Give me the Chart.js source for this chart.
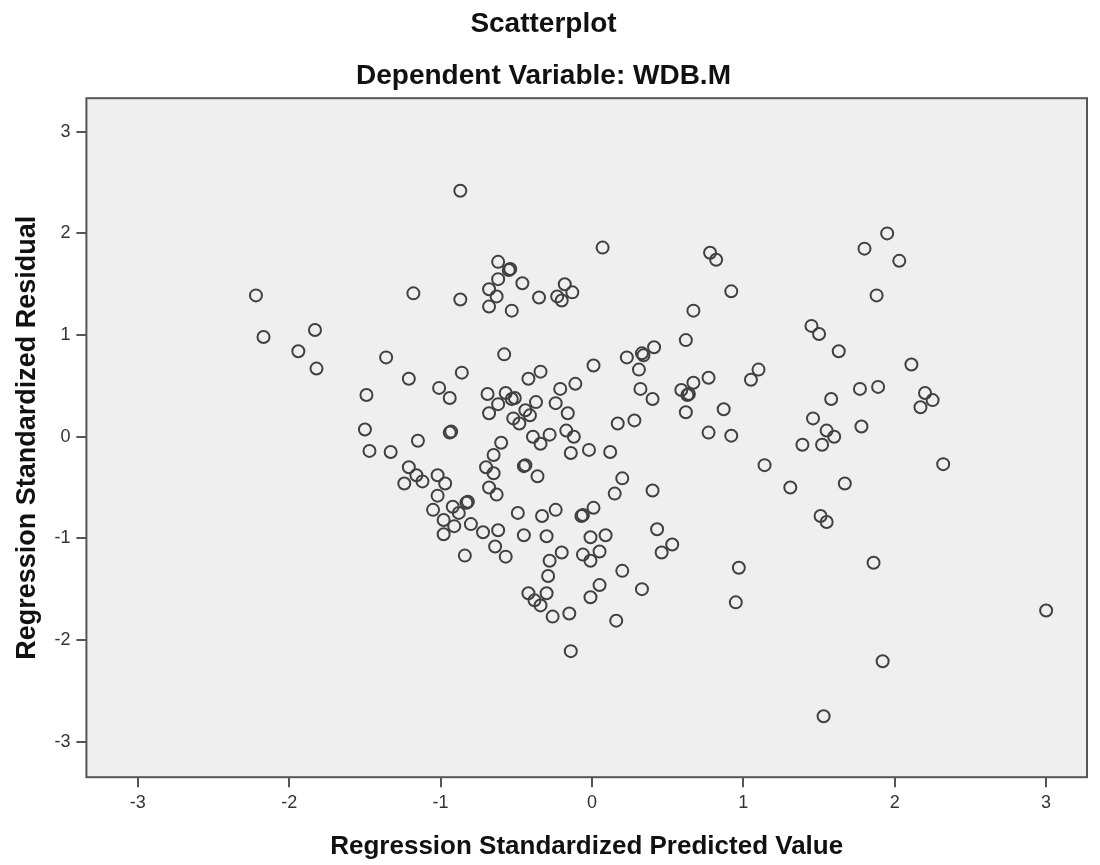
<!DOCTYPE html>
<html>
<head>
<meta charset="utf-8">
<title>Scatterplot</title>
<script src="https://cdn.jsdelivr.net/npm/chart.js@4.4.1/dist/chart.umd.min.js"></script>
<style>
    html, body { margin: 0; padding: 0; background: #ffffff; }
    #wrap { width: 1100px; height: 865px; position: relative; }
</style>
</head>
<body>
<div id="wrap"><canvas id="residChart"></canvas></div>
<script>
// regression standardized predicted value (x) and residual (y)
const predicted = [
    -0.87, -2.22, -1.18, -0.87, -2.17, -1.83, -1.94, -1.36, 0.07, -0.62,
    -0.55, -0.54, -0.62, -0.46, -0.68, -0.63, -0.68, -0.53, -0.35, -0.18,
    -0.13, -0.23, -0.20, 0.78, 0.82, 0.67, 0.62, -0.58, 0.01, 0.23,
    0.33, 0.34, 0.41, 0.92, 1.95, 1.80, 2.03, 1.88, 1.45, 1.50,
    1.63, -1.82, -1.21, -0.86, -1.01, -0.94, -1.49, -1.50, -0.94, -0.93,
    -1.15, -1.47, -1.33, -1.21, -1.16, -1.24, -1.12, -1.02, -0.97, -1.02,
    -1.05, -0.92, -0.88, -0.83, -0.82, -0.98, -0.91, -0.80, -0.98, -0.42,
    -0.34, 0.31, -0.69, -0.57, -0.53, -0.51, -0.62, -0.68, -0.37, -0.44,
    -0.41, -0.52, -0.48, -0.21, -0.11, -0.24, -0.16, 0.32, 0.40, 0.59,
    0.67, 0.77, 0.63, 0.64, 0.62, 0.17, 0.28, 0.77, -0.39, -0.34,
    -0.28, -0.17, -0.12, -0.60, -0.65, -0.14, -0.02, 0.12, -0.70, -0.65,
    -0.45, -0.44, -0.36, 0.20, 0.15, 0.40, -0.68, -0.63, -0.49, -0.33,
    -0.24, -0.07, -0.06, 0.01, 0.43, -0.72, -0.62, -0.45, -0.30, -0.01,
    0.09, 1.10, 1.05, 2.11, 0.87, 0.92, 1.58, 1.77, 1.89, 2.20,
    2.25, 2.17, 1.46, 1.55, 1.60, 1.52, 1.39, 1.78, 1.14, 2.32,
    1.31, 1.67, 1.51, 1.55, -0.84, -0.64, -0.57, -0.28, -0.20, -0.06,
    -0.01, 0.05, 0.46, 0.53, 0.20, -0.29, -0.42, -0.30, -0.38, -0.34,
    -0.26, -0.15, 0.05, -0.01, 0.33, 0.16, -0.14, 0.97, 0.95, 1.86,
    3.00, 1.92, 1.53
];
const residual = [
    2.42, 1.39, 1.41, 1.35, 0.98, 1.05, 0.84, 0.78, 1.86, 1.72,
    1.64, 1.65, 1.55, 1.51, 1.45, 1.38, 1.28, 1.24, 1.37, 1.50,
    1.42, 1.38, 1.34, 1.81, 1.74, 1.24, 0.95, 0.81, 0.70, 0.78,
    0.82, 0.80, 0.88, 1.43, 2.00, 1.85, 1.73, 1.39, 1.09, 1.01,
    0.84, 0.67, 0.57, 0.63, 0.48, 0.38, 0.41, 0.07, 0.04, 0.05,
    -0.04, -0.14, -0.15, -0.30, -0.38, -0.46, -0.44, -0.38, -0.46, -0.58,
    -0.72, -0.69, -0.75, -0.65, -0.64, -0.82, -0.88, -0.86, -0.96, 0.57,
    0.64, 0.66, 0.42, 0.43, 0.37, 0.38, 0.32, 0.23, 0.34, 0.26,
    0.21, 0.18, 0.13, 0.47, 0.52, 0.33, 0.23, 0.47, 0.37, 0.46,
    0.53, 0.58, 0.41, 0.42, 0.24, 0.13, 0.16, 0.04, 0.00, -0.07,
    0.02, 0.06, 0.00, -0.06, -0.18, -0.16, -0.13, -0.15, -0.30, -0.36,
    -0.29, -0.28, -0.39, -0.41, -0.56, -0.53, -0.50, -0.57, -0.75, -0.78,
    -0.72, -0.78, -0.77, -0.70, -0.91, -0.94, -0.92, -0.97, -0.98, -0.99,
    -0.97, 0.66, 0.56, 0.71, 0.27, 0.01, 0.37, 0.47, 0.49, 0.43,
    0.36, 0.29, 0.18, 0.06, 0.00, -0.08, -0.08, 0.10, -0.28, -0.27,
    -0.50, -0.46, -0.78, -0.84, -1.17, -1.08, -1.18, -1.22, -1.14, -1.16,
    -1.22, -1.13, -1.14, -1.06, -1.32, -1.37, -1.54, -1.54, -1.61, -1.66,
    -1.77, -1.74, -1.46, -1.58, -1.50, -1.81, -2.11, -1.29, -1.63, -1.24,
    -1.71, -2.21, -2.75
];
const xTicks = [-3, -2, -1, 0, 1, 2, 3];
const yTicks = [-3, -2, -1, 0, 1, 2, 3];

const points = predicted.map((x, i) => ({ x: x, y: residual[i] }));

// grey plot area with a dark frame, like the SPSS output
const plotFrame = {
    id: 'plotFrame',
    beforeDatasetsDraw(chart) {
        const a = chart.chartArea;
        const ctx = chart.ctx;
        ctx.save();
        ctx.fillStyle = '#efefef';
        ctx.fillRect(a.left, a.top, a.right - a.left, a.bottom - a.top);
        ctx.restore();
    },
    afterDraw(chart) {
        const a = chart.chartArea;
        const ctx = chart.ctx;
        ctx.save();
        ctx.strokeStyle = '#555555';
        ctx.lineWidth = 2;
        ctx.strokeRect(a.left, a.top, a.right - a.left, a.bottom - a.top);
        ctx.restore();
    }
};

const ctx = document.getElementById('residChart').getContext('2d');
new Chart(ctx, {
    type: 'scatter',
    data: {
        datasets: [{
            data: points,
            pointStyle: 'circle',
            pointRadius: 6,
            pointHoverRadius: 6,
            pointBorderWidth: 2,
            pointBorderColor: '#404040',
            pointBackgroundColor: 'rgba(0,0,0,0)'
        }]
    },
    options: {
        responsive: true,
        maintainAspectRatio: false,
        animation: false,
        layout: { padding: { left: 0, right: 13, top: 0, bottom: 0 } },
        plugins: {
            legend: { display: false },
            tooltip: { enabled: false },
            title: {
                display: true,
                text: 'Scatterplot',
                color: '#111111',
                font: { family: 'Liberation Sans', size: 28, weight: 'bold' },
                padding: { top: 7, bottom: 0 }
            },
            subtitle: {
                display: true,
                text: 'Dependent Variable: WDB.M',
                color: '#111111',
                font: { family: 'Liberation Sans', size: 28, weight: 'bold' },
                padding: { top: 19, bottom: 5 }
            }
        },
        scales: {
            x: {
                type: 'linear',
                min: -3.34,
                max: 3.27,
                afterBuildTicks: (axis) => { axis.ticks = xTicks.map(v => ({ value: v })); },
                border: { display: false },
                grid: { drawOnChartArea: false, drawTicks: true, tickLength: 10, color: '#555555', lineWidth: 2 },
                ticks: {
                    color: '#333333',
                    padding: 5,
                    font: { family: 'Liberation Sans', size: 18 }
                },
                title: {
                    display: true,
                    text: 'Regression Standardized Predicted Value',
                    color: '#111111',
                    font: { family: 'Liberation Sans', size: 26, weight: 'bold' },
                    padding: { top: 12, bottom: 3 }
                }
            },
            y: {
                type: 'linear',
                min: -3.35,
                max: 3.33,
                afterBuildTicks: (axis) => { axis.ticks = yTicks.map(v => ({ value: v })); },
                border: { display: false },
                grid: { drawOnChartArea: false, drawTicks: true, tickLength: 10, color: '#555555', lineWidth: 2 },
                ticks: {
                    color: '#333333',
                    padding: 6,
                    font: { family: 'Liberation Sans', size: 18 }
                },
                title: {
                    display: true,
                    text: 'Regression Standardized Residual',
                    color: '#111111',
                    font: { family: 'Liberation Sans', size: 27, weight: 'bold' },
                    padding: { top: 11, bottom: 5 }
                }
            }
        }
    },
    plugins: [plotFrame]
});
</script>
</body>
</html>
